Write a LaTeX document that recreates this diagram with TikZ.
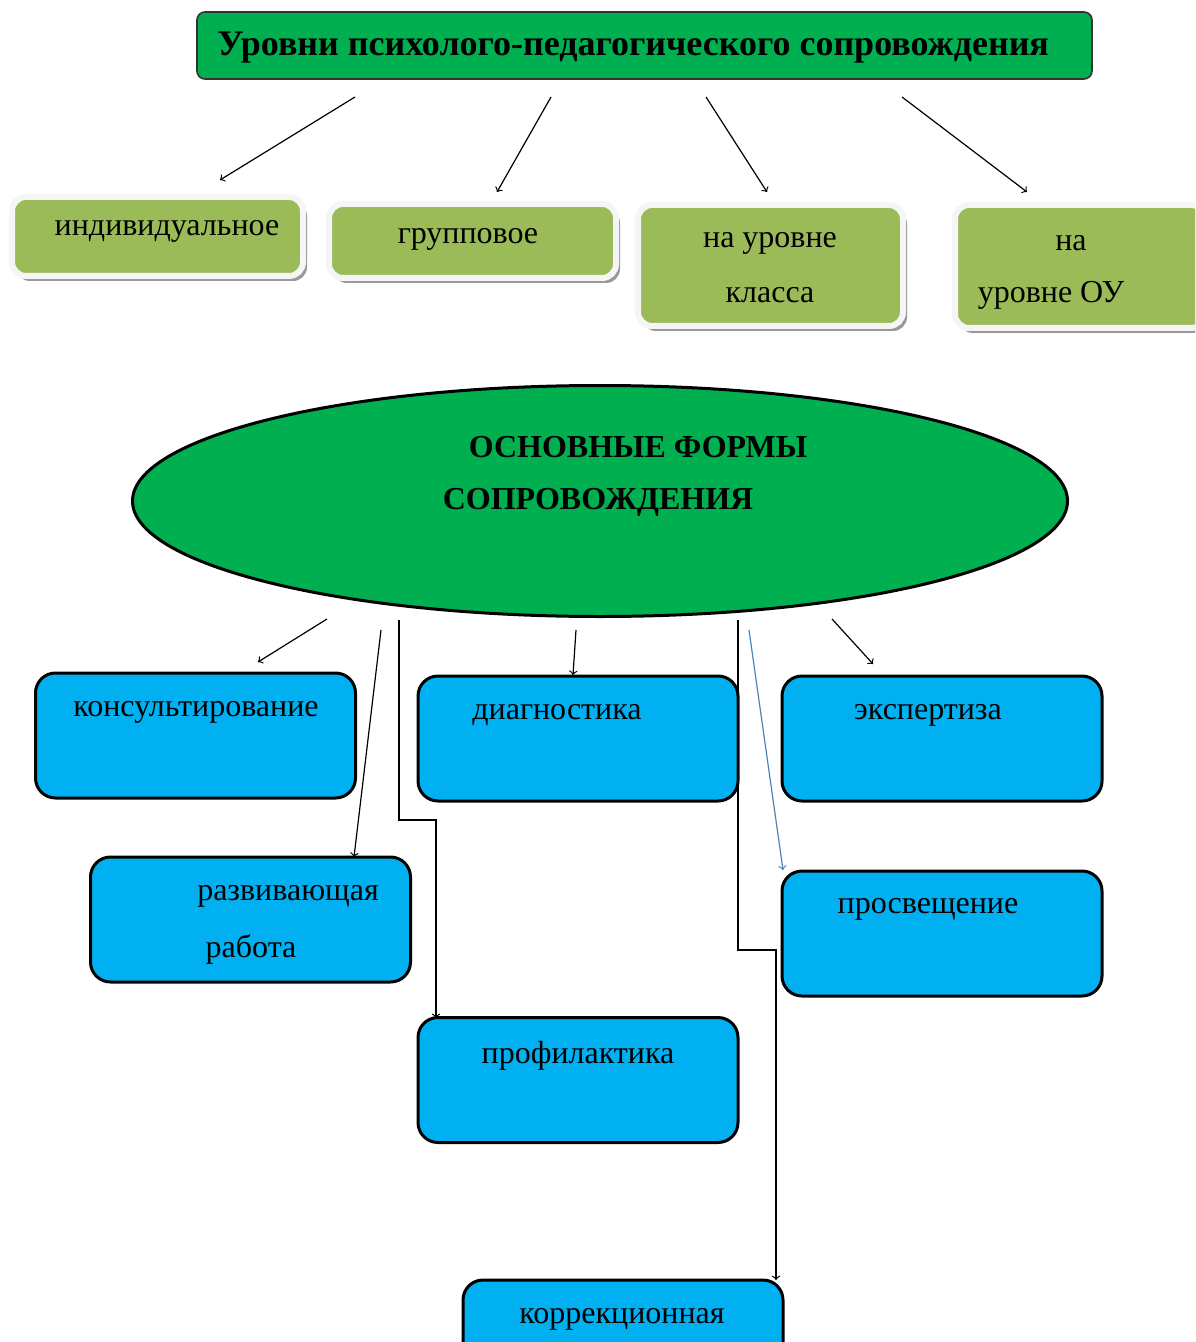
\documentclass[tikz,border=0pt]{standalone}
\usepackage{fontspec}
\setmainfont{Liberation Serif}
\usetikzlibrary{shapes.geometric,shadows}

\definecolor{titlegreen}{HTML}{00B050}
\definecolor{levelgreen}{HTML}{9BBB59}
\definecolor{formblue}{HTML}{00B0F0}
\definecolor{linkblue}{HTML}{4F81BD}

\tikzset{
  levelbox/.style={draw=white!96!black, line width=3pt, fill=levelgreen, rounded corners=7pt,
    drop shadow={shadow xshift=2pt, shadow yshift=-2.5pt, fill=black!40, opacity=1}},
  formbox/.style={draw=black, line width=1.5pt, fill=formblue, rounded corners=10pt,
    minimum width=160pt, minimum height=62.5pt},
  lbl/.style={font=\fontsize{16}{18}\selectfont, inner sep=0pt},
  caps/.style={font=\fontsize{16}{18}\selectfont\bfseries, inner sep=0pt},
  link/.style={->, line width=0.6pt},
}

\begin{document}
\begin{tikzpicture}[x=0.5pt, y=-0.5pt]
    \useasboundingbox (0,0) rectangle (1195,1342);
    \clip (0,0) rectangle (1195,1342);

    % levels
    \node[draw=black!80, fill=titlegreen, rounded corners=4pt, line width=0.8pt,
          minimum width=447.5pt, minimum height=33.5pt] (title) at (644.5,45.5) {};
    \node[font=\fontsize{18}{20}\selectfont\bfseries, anchor=west, inner sep=0pt] (titletext) at (217,48)
        {Уровни психолого-педагогического сопровождения};

    \node[levelbox, minimum width=145.5pt, minimum height=39.5pt] (indiv) at (157.5,236.5) {};
    \node[levelbox, minimum width=143.5pt, minimum height=37pt] (group) at (472.5,241) {};
    \node[levelbox, minimum width=132.5pt, minimum height=60.5pt] (klass) at (770.5,265.5) {};
    \node[levelbox, minimum width=125pt, minimum height=61.5pt] (school) at (1080,266.5) {};

    \node[lbl] (indivtext) at (167,231) {индивидуальное};
    \node[lbl] (grouptext) at (468,239) {групповое};
    \node[lbl] (klasstext1) at (770,243) {на уровне};
    \node[lbl] (klasstext2) at (770,295) {класса};
    \node[lbl] (schooltext1) at (1071,243) {на};
    \node[lbl] (schooltext2) at (1051,295) {уровне ОУ};

    \coordinate (lev1) at (355,97);
    \coordinate (lev2) at (551,97);
    \coordinate (lev3) at (706,97);
    \coordinate (lev4) at (902,97);
    \coordinate (lev1e) at (220,180);
    \coordinate (lev2e) at (497,192);
    \coordinate (lev3e) at (767,192);
    \coordinate (lev4e) at (1027,192);

    \draw[link] (lev1) -- (lev1e);
    \draw[link] (lev2) -- (lev2e);
    \draw[link] (lev3) -- (lev3e);
    \draw[link] (lev4) -- (lev4e);

    % forms
    \node[ellipse, draw, line width=1.5pt, fill=titlegreen,
          minimum width=467.5pt, minimum height=115.5pt] (forms) at (600,501) {};
    \node[caps] (formstext1) at (638,447) {ОСНОВНЫЕ ФОРМЫ};
    \node[caps] (formstext2) at (598,502) {СОПРОВОЖДЕНИЯ};

    \node[formbox] (consult) at (195.5,735.5) {};
    \node[formbox] (diag) at (578,738.5) {};
    \node[formbox] (expert) at (942,738.5) {};
    \node[formbox] (develop) at (250.5,919.5) {};
    \node[formbox] (enlight) at (942,933.5) {};
    \node[formbox] (prevent) at (578,1080) {};
    \node[formbox] (correct) at (623,1342.5) {};

    \node[lbl] (consulttext) at (196,712) {консультирование};
    \node[lbl] (diagtext) at (557,715) {диагностика};
    \node[lbl] (experttext) at (928,715) {экспертиза};
    \node[lbl] (developtext1) at (288,896) {развивающая};
    \node[lbl] (developtext2) at (251,949) {работа};
    \node[lbl] (enlighttext) at (928,909) {просвещение};
    \node[lbl] (preventtext) at (578,1056) {профилактика};
    \node[lbl] (correcttext) at (622,1319) {коррекционная};

    \coordinate (form1) at (327,619);
    \coordinate (form2) at (381,630);
    \coordinate (form3) at (399,620);
    \coordinate (form4) at (576,630);
    \coordinate (form5) at (738,620);
    \coordinate (form6) at (749,630);
    \coordinate (form7) at (832,619);
    \coordinate (form1e) at (258,662);
    \coordinate (form2e) at (354,857);
    \coordinate (form3b) at (436,820);
    \coordinate (form3e) at (436,1018);
    \coordinate (form4e) at (573,675);
    \coordinate (form5b) at (776,950);
    \coordinate (form5e) at (776,1280);
    \coordinate (form6e) at (783,870);
    \coordinate (form7e) at (873,664);

    \draw[link] (form1) -- (form1e);
    \draw[link] (form2) -- (form2e);
    \draw[link] (form3) |- (form3b) -- (form3e);
    \draw[link] (form4) -- (form4e);
    \draw[link] (form5) |- (form5b) -- (form5e);
    \draw[link,linkblue] (form6) -- (form6e);
    \draw[link] (form7) -- (form7e);
\end{tikzpicture}
\end{document}
